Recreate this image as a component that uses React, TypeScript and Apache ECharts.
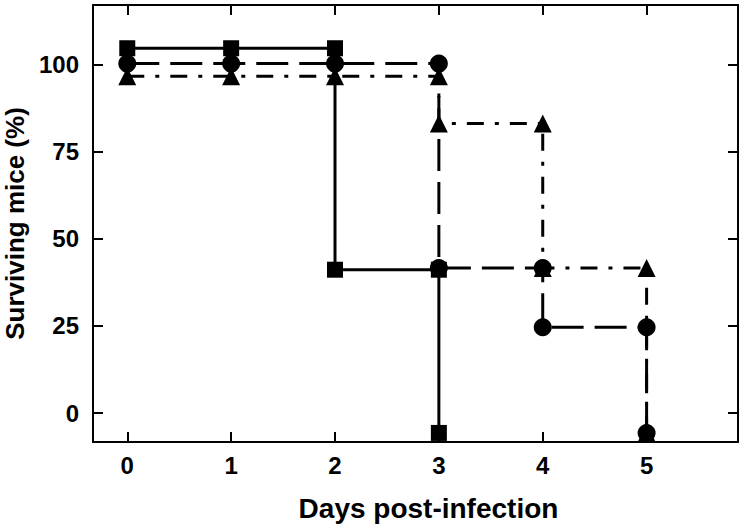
import React, { useEffect, useRef } from "react";
import * as echarts from "echarts";

// Days post-infection
const days = [0, 1, 2, 3, 4, 5];
// Surviving mice (%) on each day: value before and after the deaths recorded that day
const squareBefore = [104.6, 104.6, 104.6, 41.1];
const squareAfter = [104.6, 104.6, 41.1, -5.7];
const circleBefore = [100.2, 100.2, 100.2, 100.2, 41.6, 24.6];
const circleAfter = [100.2, 100.2, 100.2, 41.6, 24.6, -5.7];
const triangleBefore = [96.6, 96.6, 96.6, 96.6, 83.0, 41.6];
const triangleAfter = [96.6, 96.6, 96.6, 83.0, 41.6, -5.7];

const yTicks = [0, 25, 50, 75, 100];
const xTicks = [0, 1, 2, 3, 4, 5];

function stepPoints(before: number[], after: number[]): number[][] {
  const pts: number[][] = [];
  before.forEach((b, i) => {
    pts.push([days[i], b]);
    if (after[i] !== b) pts.push([days[i], after[i]]);
  });
  return pts;
}

const FONT = "'Liberation Sans', Arial, Helvetica, sans-serif";

export default function App() {
  const ref = useRef<HTMLDivElement>(null);
  useEffect(() => {
    if (!ref.current) return;
    const chart = echarts.init(ref.current, undefined, { renderer: "svg" });
    const axisLineStyle = { color: "#000", width: 2 };
    const tickStyle = { color: "#000", width: 2 };
    const labelStyle = {
      color: "#000",
      fontFamily: FONT,
      fontWeight: "bold" as const,
      fontSize: 24,
    };
    chart.setOption({
      animation: false,
      backgroundColor: "#fff",
      grid: { left: 93, right: 9, top: 5, bottom: 84, containLabel: false, outerBoundsMode: "none" },
      xAxis: [
        {
          type: "value",
          position: "bottom",
          min: -0.33,
          max: 5.88,
          splitLine: { show: false },
          axisLine: { show: true, onZero: false, lineStyle: axisLineStyle },
          axisTick: { show: true, inside: true, length: 10, lineStyle: tickStyle, customValues: xTicks },
          axisLabel: { ...labelStyle, margin: 11, customValues: xTicks },
          name: "Days post-infection",
          nameLocation: "middle",
          nameGap: 52,
          nameTextStyle: {
            color: "#000",
            fontFamily: FONT,
            fontWeight: "bold",
            fontSize: 28,
            padding: [0, 0, 0, 26],
          },
        },
        {
          type: "value",
          position: "top",
          min: -0.33,
          max: 5.88,
          splitLine: { show: false },
          axisLine: { show: true, onZero: false, lineStyle: axisLineStyle },
          axisTick: { show: true, inside: true, length: 10, lineStyle: tickStyle, customValues: xTicks },
          axisLabel: { show: false },
        },
      ],
      yAxis: [
        {
          type: "value",
          position: "left",
          min: -8.3,
          max: 117,
          splitLine: { show: false },
          axisLine: { show: true, onZero: false, lineStyle: axisLineStyle },
          axisTick: { show: true, inside: true, length: 10, lineStyle: tickStyle, customValues: yTicks },
          axisLabel: { ...labelStyle, margin: 14, customValues: yTicks },
          name: "Surviving mice (%)",
          nameLocation: "middle",
          nameGap: 59,
          nameTextStyle: {
            color: "#000",
            fontFamily: FONT,
            fontWeight: "bold",
            fontSize: 26,
          },
        },
        {
          type: "value",
          position: "right",
          min: -8.3,
          max: 117,
          splitLine: { show: false },
          axisLine: { show: true, onZero: false, lineStyle: axisLineStyle },
          axisTick: { show: true, inside: true, length: 10, lineStyle: tickStyle, customValues: yTicks },
          axisLabel: { show: false },
        },
      ],
      series: [
        {
          type: "line",
          name: "triangle",
          data: stepPoints(triangleBefore, triangleAfter),
          symbol: "triangle",
          symbolSize: 18,
          showAllSymbol: true,
          itemStyle: { color: "#000" },
          lineStyle: { color: "#000", width: 3, type: [17, 11, 4, 11] },
          z: 2,
        },
        {
          type: "line",
          name: "circle",
          data: stepPoints(circleBefore, circleAfter),
          symbol: "circle",
          symbolSize: 18,
          showAllSymbol: true,
          itemStyle: { color: "#000" },
          lineStyle: { color: "#000", width: 3, type: [32, 11] },
          z: 3,
        },
        {
          type: "line",
          name: "square",
          data: stepPoints(squareBefore, squareAfter),
          symbol: "rect",
          symbolSize: 16,
          showAllSymbol: true,
          itemStyle: { color: "#000" },
          lineStyle: { color: "#000", width: 3 },
          z: 4,
        },
      ],
    });
    return () => chart.dispose();
  }, []);
  return (
    <div
      ref={ref}
      style={{ position: "fixed", left: 0, top: 0, width: 747, height: 526 }}
    />
  );
}
